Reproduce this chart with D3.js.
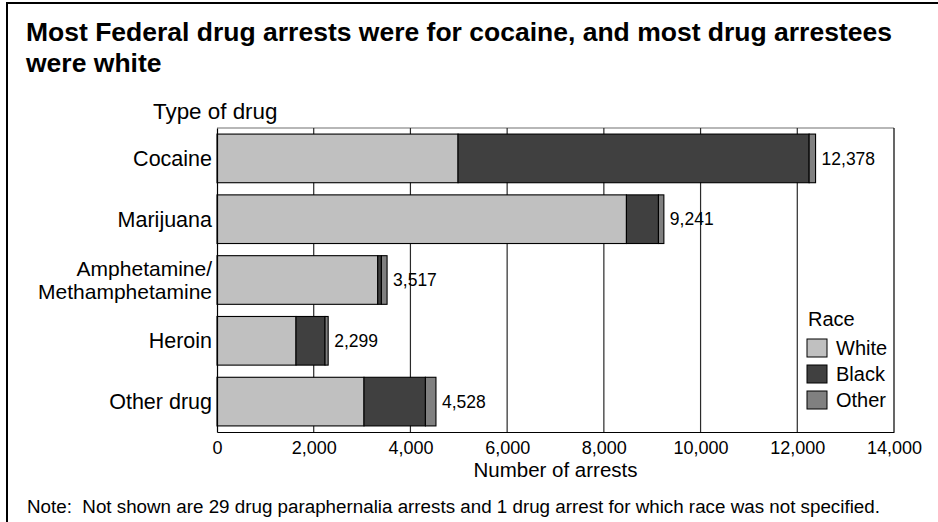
<!DOCTYPE html>
<html>
<head>
<meta charset="utf-8">
<script src="https://cdn.jsdelivr.net/npm/d3@7"></script>
<style>
  html, body { margin: 0; padding: 0; background: #fff; }
  svg { display: block; font-family: "Liberation Sans", Arial, Helvetica, sans-serif; }
</style>
</head>
<body>
<svg id="chart" width="938" height="522"></svg>
<script>
// ---- data ----
const categories = ["Cocaine", "Marijuana", "Amphetamine/\nMethamphetamine", "Heroin", "Other drug"];
const white = [4985, 8467, 3324, 1634, 3040];
const black = [7260, 662, 76, 600, 1270];
const other = [133, 112, 117, 65, 218];
const totals = [12378, 9241, 3517, 2299, 4528];
const seriesNames = ["White", "Black", "Other"];
const xTicks = [0, 2000, 4000, 6000, 8000, 10000, 12000, 14000];
const titleLines = ["Most Federal drug arrests were for cocaine, and most drug arrestees", "were white"];
const noteText = "Note:\u00a0 Not shown are 29 drug paraphernalia arrests and 1 drug arrest for which race was not specified.";

const colors = { White: "#c0c0c0", Black: "#404040", Other: "#808080" };

const svg = d3.select("#chart");
const plot = { left: 217, right: 894, top: 128, bottom: 432 };

// outer frame
svg.append("rect").attr("x", 7).attr("y", 3).attr("width", 960).attr("height", 560)
  .attr("fill", "none").attr("stroke", "#000").attr("stroke-width", 2);

// title
svg.append("g").selectAll("text").data(titleLines).join("text")
  .attr("x", 26).attr("y", (d, i) => 41 + i * 31)
  .attr("font-size", 26.5).attr("font-weight", "bold").attr("fill", "#000")
  .text(d => d);

// scales
const x = d3.scaleLinear().domain([0, 14000]).range([plot.left, plot.right]);
const rows = categories.map((c, i) => ({ cat: c, White: white[i], Black: black[i], Other: other[i], total: totals[i] }));
const y = d3.scaleBand().domain(categories).range([plot.top, plot.bottom]).paddingInner(0.2).paddingOuter(0.1);

// plot frame top (gray)
svg.append("line").attr("x1", plot.left).attr("x2", plot.right).attr("y1", plot.top).attr("y2", plot.top)
  .attr("stroke", "#707070").attr("stroke-width", 1.2);

// gridlines
svg.append("g").selectAll("line").data(xTicks.slice(1)).join("line")
  .attr("x1", d => x(d)).attr("x2", d => x(d))
  .attr("y1", plot.top).attr("y2", plot.bottom)
  .attr("stroke", d => d === 14000 ? "#000" : "#2a2a2a").attr("stroke-width", 1.2);

// stacked bars
const stack = d3.stack().keys(seriesNames)(rows);
svg.append("g").selectAll("g").data(stack).join("g")
  .attr("fill", d => colors[d.key])
  .selectAll("rect").data(d => d).join("rect")
  .attr("x", d => x(d[0]))
  .attr("y", d => y(d.data.cat))
  .attr("width", d => x(d[1]) - x(d[0]))
  .attr("height", y.bandwidth())
  .attr("stroke", "#000").attr("stroke-width", 1.1);

// value labels
svg.append("g").selectAll("text").data(rows).join("text")
  .attr("x", d => x(d.total) + 6)
  .attr("y", d => y(d.cat) + y.bandwidth() / 2)
  .attr("dy", "0.35em")
  .attr("font-size", 17.5).attr("fill", "#000")
  .text(d => d3.format(",")(d.total));

// x axis
const xAxis = d3.axisBottom(x).tickValues(xTicks).tickSize(0).tickPadding(9).tickFormat(d3.format(","));
const gx = svg.append("g").attr("transform", `translate(0,${plot.bottom})`).call(xAxis);
gx.select(".domain").attr("stroke", "#000").attr("stroke-width", 1.2);
gx.selectAll("text").attr("font-size", 18).attr("font-family", "Liberation Sans, Arial, sans-serif").attr("fill", "#000");

// y axis
const yAxis = d3.axisLeft(y).tickSize(0).tickPadding(5).tickFormat("");
const gy = svg.append("g").attr("transform", `translate(${plot.left},0)`).call(yAxis);
gy.select(".domain").attr("stroke", "#000").attr("stroke-width", 1.2);
gy.selectAll(".tick").each(function(d) {
  const lines = d.split("\n");
  const fs = lines.length > 1 ? 21 : 21.5;
  const lh = 23.6;
  lines.forEach((ln, i) => {
    d3.select(this).append("text")
      .attr("x", -5).attr("text-anchor", "end")
      .attr("y", (i - (lines.length - 1) / 2) * lh)
      .attr("dy", "0.35em")
      .attr("font-size", fs).attr("fill", "#000")
      .attr("font-family", "Liberation Sans, Arial, sans-serif")
      .text(ln);
  });
});

// axis titles
svg.append("text").attr("x", 153).attr("y", 119).attr("font-size", 22.4).attr("fill", "#000").text("Type of drug");
svg.append("text").attr("x", (plot.left + plot.right) / 2).attr("y", 477).attr("text-anchor", "middle")
  .attr("font-size", 20.5).attr("fill", "#000").text("Number of arrests");

// legend
const lg = svg.append("g").attr("transform", "translate(807,0)");
lg.append("text").attr("x", 1).attr("y", 326).attr("font-size", 20).attr("fill", "#000").text("Race");
const items = lg.selectAll("g.item").data(seriesNames).join("g").attr("class", "item")
  .attr("transform", (d, i) => `translate(0,${339 + i * 26})`);
items.append("rect").attr("width", 20).attr("height", 18)
  .attr("fill", d => colors[d]).attr("stroke", "#000").attr("stroke-width", 1);
items.append("text").attr("x", 29).attr("y", 9).attr("dy", "0.36em").attr("font-size", 20).attr("fill", "#000").text(d => d);

// note
svg.append("text").attr("x", 27).attr("y", 513).attr("font-size", 18.8).attr("fill", "#000").text(noteText);
</script>
</body>
</html>
